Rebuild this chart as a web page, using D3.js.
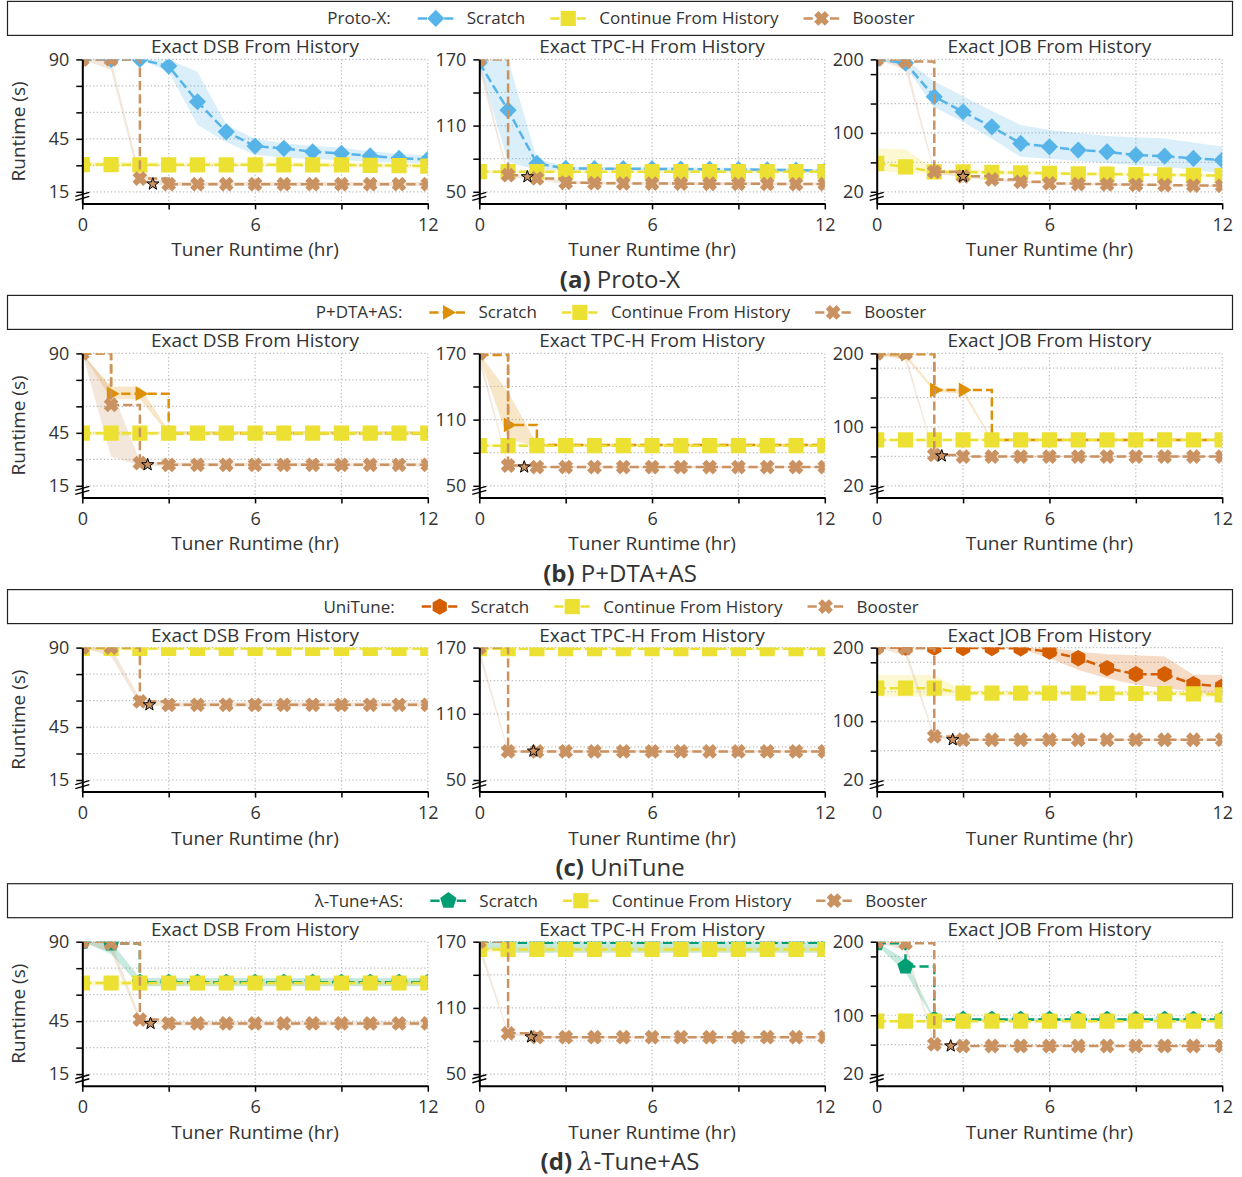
<!DOCTYPE html>
<html>
<head>
<meta charset="utf-8">
<script src="https://cdn.jsdelivr.net/npm/d3@7"></script>
<style>
  body { margin: 0; background: #fff; }
  svg text { font-family: "Open Sans", "Noto Sans", sans-serif; fill: #333; }
</style>
</head>
<body>
<svg id="chart" width="1242" height="1177"></svg>
<script>
// ---------- categories and tick values ----------
const hours = [0, 1, 2, 3, 4, 5, 6, 7, 8, 9, 10, 11, 12];
const tunerNames = ["Proto-X", "P+DTA+AS", "UniTune", "λ-Tune+AS"];
const captionLetters = ["(a)", "(b)", "(c)", "(d)"];
const workloadTitles = ["Exact DSB From History", "Exact TPC-H From History", "Exact JOB From History"];
const seriesLabels = ["Scratch", "Continue From History", "Booster"];
const yMaxByWorkload = [90, 170, 200];
const yTickValues = [[15, 30, 45, 60, 75, 90], [50, 80, 110, 140, 170], [20, 60, 100, 140, 180, 200]];
const yTickLabelValues = [[15, 45, 90], [50, 110, 170], [20, 100, 200]];
const xTickValues = [0, 3, 6, 9, 12];
const xTickLabelValues = [0, 6, 12];

// ---------- Proto-X ----------
const pxDsbScratch = { mean: [90, 90, 90, 86.2, 66, 49, 40.9, 39.6, 37.7, 36.8, 35.3, 34, 33.4],
  lo: [90, 90, 90, 83, 53, 43, 36, 34.5, 33.5, 33, 32, 31.5, 31],
  hi: [90, 90, 90, 90, 83, 53, 45, 42.5, 41, 40, 38, 36.5, 35.5] };
const pxDsbContinue = { mean: [30.4, 30.4, 30.3, 30.3, 30.3, 30.3, 30.3, 30.3, 30.2, 30.2, 30, 29.8, 29.6],
  lo: [29, 29, 29, 29, 29, 29, 29, 29, 29, 28.8, 28.6, 28.4, 28.2],
  hi: [32, 32, 31.8, 31.8, 31.8, 31.8, 31.8, 31.8, 31.6, 31.6, 31.4, 31.2, 31] };
const pxDsbBooster = { mean: [90, 90, 22.5, 19.3, 19.3, 19.3, 19.3, 19.3, 19.3, 19.3, 19.3, 19.3, 19.3],
  lo: [90, 84, 19.8, 18.3, 18.3, 18.3, 18.3, 18.3, 18.3, 18.3, 18.3, 18.3, 18.3],
  hi: [90, 90, 25, 20.5, 20.5, 20.5, 20.5, 20.5, 20.5, 20.5, 20.5, 20.5, 20.5] };

const pxTpchScratch = { mean: [167, 124, 75.7, 71.2, 71, 71, 70.8, 70.6, 70.4, 70.2, 70, 69.6, 69],
  lo: [164, 77, 70, 69.5, 69.5, 69.5, 69.3, 69, 68.8, 68.6, 68.4, 68, 67.5],
  hi: [170, 170, 80, 73, 72.5, 72.5, 72.3, 72.2, 72, 71.8, 71.6, 71.2, 70.5] };
const pxTpchContinue = { mean: [68.2, 68.2, 68.2, 68.2, 68.2, 68.2, 68.2, 68.2, 68.2, 68.2, 68.2, 68.2, 68.2],
  lo: [67, 67, 67, 67, 67, 67, 67, 67, 67, 67, 67, 67, 67],
  hi: [69.5, 69.5, 69.5, 69.5, 69.5, 69.5, 69.5, 69.5, 69.5, 69.5, 69.5, 69.5, 69.5] };
const pxTpchBooster = { mean: [170, 65.1, 62.1, 58.2, 57.8, 57.6, 57.5, 57.4, 57.3, 57.2, 57.1, 57, 57],
  lo: [160, 63, 60.8, 57, 56.6, 56.4, 56.3, 56.2, 56.1, 56, 55.9, 55.8, 55.8],
  hi: [170, 67, 63.6, 59.7, 59.3, 59.1, 59, 58.9, 58.8, 58.7, 58.6, 58.5, 58.5] };

const pxJobScratch = { mean: [200, 195, 149.2, 128.8, 108.4, 85.8, 81.2, 76.7, 74.4, 69.9, 68.5, 65.4, 63.1],
  lo: [200, 190, 135, 115, 92, 67.6, 65, 62, 59, 56, 54, 50, 45],
  hi: [200, 200, 170, 150, 130, 110.8, 104, 100, 96, 94, 92.6, 87, 81.2] };
const pxJobContinue = { mean: [58.6, 54, 47.2, 47, 46.5, 45.8, 45, 44.5, 44, 43.5, 43, 42.5, 42],
  lo: [47, 47, 44, 44, 43.5, 43, 42.5, 42, 41.5, 41, 40.5, 40, 39.5],
  hi: [79, 78, 51, 50, 49.5, 48.5, 47.5, 47, 46.5, 46, 45.5, 45, 44.5] };
const pxJobBooster = { mean: [200, 197, 47.2, 41, 36.8, 33.6, 31.4, 30.5, 30, 29.5, 29, 28.5, 28.2],
  lo: [200, 186, 45, 39.5, 35.3, 32.1, 29.9, 29, 28.5, 28, 27.5, 27, 26.7],
  hi: [200, 200, 49.5, 42.5, 38.3, 35.1, 32.9, 32, 31.5, 31, 30.5, 30, 29.7] };

// ---------- P+DTA+AS ----------
const pdDsbScratch = { mean: [90, 67.2, 67.2, 44.8, 44.8, 44.8, 44.8, 44.8, 44.8, 44.8, 44.8, 44.8, 44.8],
  lo: [90, 64, 64, 44, 44, 44, 44, 44, 44, 44, 44, 44, 44],
  hi: [90, 71.3, 71.3, 46, 46, 46, 46, 46, 46, 46, 46, 46, 46] };
const pdDsbContinue = { mean: [44.8, 44.8, 44.8, 44.8, 44.8, 44.8, 44.8, 44.8, 44.8, 44.8, 44.8, 44.8, 44.8],
  lo: [43.5, 43.5, 43.5, 43.5, 43.5, 43.5, 43.5, 43.5, 43.5, 43.5, 43.5, 43.5, 43.5],
  hi: [46, 46, 46, 46, 46, 46, 46, 46, 46, 46, 46, 46, 46] };
const pdDsbBooster = { mean: [90, 60.8, 27.8, 26.9, 26.9, 26.9, 26.9, 26.9, 26.9, 26.9, 26.9, 26.9, 26.9],
  lo: [90, 31.6, 26.5, 26, 26, 26, 26, 26, 26, 26, 26, 26, 26],
  hi: [90, 70.2, 29, 28, 28, 28, 28, 28, 28, 28, 28, 28, 28] };

const pdTpchScratch = { mean: [168.5, 105.2, 87, 87, 87, 87, 87, 87, 87, 87, 87, 87, 87],
  lo: [167, 92, 86, 86, 86, 86, 86, 86, 86, 86, 86, 86, 86],
  hi: [170, 135, 88, 88, 88, 88, 88, 88, 88, 88, 88, 88, 88] };
const pdTpchContinue = { mean: [86.4, 86.4, 86.4, 86.4, 86.4, 86.4, 86.4, 86.4, 86.4, 86.4, 86.4, 86.4, 86.4],
  lo: [85, 85, 85, 85, 85, 85, 85, 85, 85, 85, 85, 85, 85],
  hi: [88, 88, 88, 88, 88, 88, 88, 88, 88, 88, 88, 88, 88] };
const pdTpchBooster = { mean: [170, 68.4, 67, 67, 67, 67, 67, 67, 67, 67, 67, 67, 67],
  lo: [162, 67, 66, 66, 66, 66, 66, 66, 66, 66, 66, 66, 66],
  hi: [170, 70, 68, 68, 68, 68, 68, 68, 68, 68, 68, 68, 68] };

const pdJobScratch = { mean: [199, 199, 150.2, 150.2, 82.4, 82.4, 82.4, 82.4, 82.4, 82.4, 82.4, 82.4, 82.4],
  lo: [196, 194, 148, 145, 81, 81, 81, 81, 81, 81, 81, 81, 81],
  hi: [200, 200, 152, 152, 84, 84, 84, 84, 84, 84, 84, 84, 84] };
const pdJobContinue = { mean: [82.4, 82.4, 82.4, 82.4, 82.4, 82.4, 82.4, 82.4, 82.4, 82.4, 82.4, 82.4, 82.4],
  lo: [80.5, 80.5, 80.5, 80.5, 80.5, 80.5, 80.5, 80.5, 80.5, 80.5, 80.5, 80.5, 80.5],
  hi: [84.5, 84.5, 84.5, 84.5, 84.5, 84.5, 84.5, 84.5, 84.5, 84.5, 84.5, 84.5, 84.5] };
const pdJobBooster = { mean: [200, 200, 62, 59.7, 59.7, 59.7, 59.7, 59.7, 59.7, 59.7, 59.7, 59.7, 59.7],
  lo: [200, 190, 60.5, 58.5, 58.5, 58.5, 58.5, 58.5, 58.5, 58.5, 58.5, 58.5, 58.5],
  hi: [200, 200, 64, 61, 61, 61, 61, 61, 61, 61, 61, 61, 61] };

// ---------- UniTune ----------
const utDsbScratch = { mean: [100, 100, 100, 100, 100, 100, 100, 100, 100, 100, 100, 100, 100],
  lo: [98, 98, 98, 98, 98, 98, 98, 98, 98, 98, 98, 98, 98],
  hi: [102, 102, 102, 102, 102, 102, 102, 102, 102, 102, 102, 102, 102] };
const utDsbContinue = { mean: [89.5, 89.5, 89.5, 89.5, 89.5, 89.5, 89.5, 89.5, 89.5, 89.5, 89.5, 89.5, 89.5],
  lo: [88.5, 88.5, 88.5, 88.5, 88.5, 88.5, 88.5, 88.5, 88.5, 88.5, 88.5, 88.5, 88.5],
  hi: [90, 90, 90, 90, 90, 90, 90, 90, 90, 90, 90, 90, 90] };
const utDsbBooster = { mean: [90, 90, 59.5, 57.6, 57.6, 57.6, 57.6, 57.6, 57.6, 57.6, 57.6, 57.6, 57.6],
  lo: [90, 85, 57.5, 56.5, 56.5, 56.5, 56.5, 56.5, 56.5, 56.5, 56.5, 56.5, 56.5],
  hi: [90, 90, 61.5, 59, 59, 59, 59, 59, 59, 59, 59, 59, 59] };

const utTpchScratch = { mean: [185, 185, 185, 185, 185, 185, 185, 185, 185, 185, 185, 185, 185],
  lo: [182, 182, 182, 182, 182, 182, 182, 182, 182, 182, 182, 182, 182],
  hi: [188, 188, 188, 188, 188, 188, 188, 188, 188, 188, 188, 188, 188] };
const utTpchContinue = { mean: [169, 169, 169, 169, 169, 169, 169, 169, 169, 169, 169, 169, 169],
  lo: [167.5, 167.5, 167.5, 167.5, 167.5, 167.5, 167.5, 167.5, 167.5, 167.5, 167.5, 167.5, 167.5],
  hi: [170, 170, 170, 170, 170, 170, 170, 170, 170, 170, 170, 170, 170] };
const utTpchBooster = { mean: [170, 75.9, 75.9, 75.9, 75.9, 75.9, 75.9, 75.9, 75.9, 75.9, 75.9, 75.9, 75.9],
  lo: [162, 74.9, 74.9, 74.9, 74.9, 74.9, 74.9, 74.9, 74.9, 74.9, 74.9, 74.9, 74.9],
  hi: [170, 76.9, 76.9, 76.9, 76.9, 76.9, 76.9, 76.9, 76.9, 76.9, 76.9, 76.9, 76.9] };

const utJobScratch = { mean: [200, 200, 200, 199.5, 199.5, 199, 194.6, 185.6, 172.1, 163.9, 163.9, 150.3, 147.1],
  lo: [200, 200, 200, 199, 199, 198, 185.6, 169.7, 158.4, 149.4, 144.9, 140.3, 133.5],
  hi: [200, 200, 200, 200, 200, 200, 200, 194.6, 191, 189.6, 187.8, 163, 163] };
const utJobContinue = { mean: [144.9, 144.9, 144.9, 138.1, 138.1, 138.1, 138.1, 138, 137.8, 137.6, 137.4, 137, 135.8],
  lo: [133.5, 133.5, 133.5, 134.5, 134.5, 134.5, 134.5, 134.3, 134.2, 134, 133.8, 133.5, 132.5],
  hi: [162.9, 162.9, 162.9, 142, 142, 142, 142, 141.8, 141.6, 141.4, 141.2, 140.8, 139.5] };
const utJobBooster = { mean: [200, 199, 79.2, 74.7, 74.7, 74.7, 74.7, 74.7, 74.7, 74.7, 74.7, 74.7, 74.7],
  lo: [200, 189, 77.2, 73.2, 73.2, 73.2, 73.2, 73.2, 73.2, 73.2, 73.2, 73.2, 73.2],
  hi: [200, 200, 81.5, 76.2, 76.2, 76.2, 76.2, 76.2, 76.2, 76.2, 76.2, 76.2, 76.2] };

// ---------- λ-Tune+AS ----------
const ltDsbScratch = { mean: [90, 89, 67, 67, 67, 67, 67, 67, 67, 67, 67, 67, 67],
  lo: [90, 83, 64.7, 64.7, 64.7, 64.7, 64.7, 64.7, 64.7, 64.7, 64.7, 64.7, 64.7],
  hi: [90, 90, 69.4, 69.4, 69.4, 69.4, 69.4, 69.4, 69.4, 69.4, 69.4, 69.4, 69.4] };
const ltDsbContinue = { mean: [66.6, 66.6, 66.6, 66.6, 66.6, 66.6, 66.6, 66.6, 66.6, 66.6, 66.6, 66.6, 66.6],
  lo: [65, 65, 65, 65, 65, 65, 65, 65, 65, 65, 65, 65, 65],
  hi: [68, 68, 68, 68, 68, 68, 68, 68, 68, 68, 68, 68, 68] };
const ltDsbBooster = { mean: [90, 89, 45.9, 43.7, 43.7, 43.7, 43.7, 43.7, 43.7, 43.7, 43.7, 43.7, 43.7],
  lo: [90, 84, 44.2, 42.5, 42.5, 42.5, 42.5, 42.5, 42.5, 42.5, 42.5, 42.5, 42.5],
  hi: [90, 90, 47.6, 44.9, 44.9, 44.9, 44.9, 44.9, 44.9, 44.9, 44.9, 44.9, 44.9] };

const ltTpchScratch = { mean: [170, 169, 169, 169, 169, 169, 169, 169, 169, 169, 169, 169, 169],
  lo: [165, 160, 160, 160, 160, 160, 160, 160, 160, 160, 160, 160, 160],
  hi: [170, 170, 170, 170, 170, 170, 170, 170, 170, 170, 170, 170, 170] };
const ltTpchContinue = { mean: [163, 163, 163, 163, 163, 163, 163, 163, 163, 163, 163, 163, 163],
  lo: [160.5, 160.5, 160.5, 160.5, 160.5, 160.5, 160.5, 160.5, 160.5, 160.5, 160.5, 160.5, 160.5],
  hi: [165.5, 165.5, 165.5, 165.5, 165.5, 165.5, 165.5, 165.5, 165.5, 165.5, 165.5, 165.5, 165.5] };
const ltTpchBooster = { mean: [170, 87, 83.5, 83.5, 83.5, 83.5, 83.5, 83.5, 83.5, 83.5, 83.5, 83.5, 83.5],
  lo: [162, 86, 82.5, 82.5, 82.5, 82.5, 82.5, 82.5, 82.5, 82.5, 82.5, 82.5, 82.5],
  hi: [170, 88, 84.5, 84.5, 84.5, 84.5, 84.5, 84.5, 84.5, 84.5, 84.5, 84.5, 84.5] };

const ltJobScratch = { mean: [197.8, 166.2, 94.3, 94.3, 94.3, 94.3, 94.3, 94.3, 94.3, 94.3, 94.3, 94.3, 94.3],
  lo: [196, 158, 92.5, 92.5, 92.5, 92.5, 92.5, 92.5, 92.5, 92.5, 92.5, 92.5, 92.5],
  hi: [200, 175, 96, 96, 96, 96, 96, 96, 96, 96, 96, 96, 96] };
const ltJobContinue = { mean: [92, 92, 92, 92, 92, 92, 92, 92, 92, 92, 92, 92, 92],
  lo: [90, 90, 90, 90, 90, 90, 90, 90, 90, 90, 90, 90, 90],
  hi: [94, 94, 94, 94, 94, 94, 94, 94, 94, 94, 94, 94, 94] };
const ltJobBooster = { mean: [200, 198, 60.5, 58.2, 58.2, 58.2, 58.2, 58.2, 58.2, 58.2, 58.2, 58.2, 58.2],
  lo: [200, 188, 58.5, 57, 57, 57, 57, 57, 57, 57, 57, 57, 57],
  hi: [200, 200, 62.5, 59.4, 59.4, 59.4, 59.4, 59.4, 59.4, 59.4, 59.4, 59.4, 59.4] };

// Booster switch-over points (hour, runtime) per tuner row and workload column
const starHours = [[2.45, 1.67, 3.0], [2.27, 1.56, 2.26], [2.33, 1.88, 2.64], [2.37, 1.8, 2.57]];
const starRuntimes = [[19.4, 63.6, 40.8], [26.9, 67, 60.6], [57.6, 76.2, 74.7], [43.7, 83.7, 58.2]];

// ---------- styling ----------
const scratchColors = ["#56B4E9", "#DE8F05", "#D55E00", "#029E73"];
const continueColor = "#ECE133";
const boosterColor = "#CA9161";
const scratchShapes = ["diamond", "triRight", "hexagon", "pentagon"];
const scratchStep = [false, true, false, true];

const panelSeries = [
  [[pxDsbScratch, pxDsbContinue, pxDsbBooster], [pxTpchScratch, pxTpchContinue, pxTpchBooster], [pxJobScratch, pxJobContinue, pxJobBooster]],
  [[pdDsbScratch, pdDsbContinue, pdDsbBooster], [pdTpchScratch, pdTpchContinue, pdTpchBooster], [pdJobScratch, pdJobContinue, pdJobBooster]],
  [[utDsbScratch, utDsbContinue, utDsbBooster], [utTpchScratch, utTpchContinue, utTpchBooster], [utJobScratch, utJobContinue, utJobBooster]],
  [[ltDsbScratch, ltDsbContinue, ltDsbBooster], [ltTpchScratch, ltTpchContinue, ltTpchBooster], [ltJobScratch, ltJobContinue, ltJobBooster]]
];

// ---------- geometry ----------
const W = 345.5, H = 144, SPAN = 132.4;
const colLeft = [82.3, 479.3, 876.7];
const rowTop = [59.4, 353.4, 647.6, 941.7];
const LW = 2.5, DASH = "9.2,4";

// ---------- marker shapes ----------
function polygonPath(n, r, rot) {
  const pts = d3.range(n).map(i => {
    const a = rot + i * 2 * Math.PI / n;
    return [r * Math.sin(a), -r * Math.cos(a)];
  });
  return "M" + pts.map(p => p[0].toFixed(2) + "," + p[1].toFixed(2)).join("L") + "Z";
}
const shapePath = {
  diamond: () => polygonPath(4, 8.6, 0),
  square: () => polygonPath(4, 7.6 * Math.SQRT2, Math.PI / 4),
  triRight: () => polygonPath(3, 8.6, Math.PI / 2),
  hexagon: () => polygonPath(6, 8.2, 0),
  pentagon: () => polygonPath(5, 8.6, 0),
  xFilled: () => {
    const e = 7.4 * Math.SQRT2, a = e * 0.72, t = e * 0.28;
    const plus = [[t, -a], [t, -t], [a, -t], [a, t], [t, t], [t, a], [-t, a], [-t, t], [-a, t], [-a, -t], [-t, -t], [-t, -a]];
    const rot = plus.map(([x, y]) => [(x - y) / Math.SQRT2, (x + y) / Math.SQRT2]);
    return "M" + rot.map(p => p[0].toFixed(2) + "," + p[1].toFixed(2)).join("L") + "Z";
  },
  star: () => {
    const pts = d3.range(10).map(i => {
      const r = i % 2 === 0 ? 6.4 : 2.6;
      const a = i * Math.PI / 5;
      return [r * Math.sin(a), -r * Math.cos(a)];
    });
    return "M" + pts.map(p => p[0].toFixed(2) + "," + p[1].toFixed(2)).join("L") + "Z";
  }
};

const svg = d3.select("#chart");

// ---------- one subplot ----------
function drawPanel(g, row, col) {
  const yMax = yMaxByWorkload[col];
  const yLow = yTickLabelValues[col][0];
  const yMin = yLow - (yMax - yLow) * (H - SPAN) / SPAN;
  const x = d3.scaleLinear().domain([0, 12]).range([0, W]);
  const y = d3.scaleLinear().domain([yMin, yMax]).range([H, 0]);

  const clipId = `clip-${row}-${col}`;
  g.append("clipPath").attr("id", clipId).append("rect").attr("width", W).attr("height", H);

  // dotted grid
  const grid = g.append("g").attr("stroke", "#b8b8b8").attr("stroke-width", 1.2).attr("stroke-dasharray", "1.2,2.4");
  grid.selectAll(".gy").data(yTickValues[col]).join("line")
    .attr("x1", 0).attr("x2", W).attr("y1", d => y(d)).attr("y2", d => y(d));
  grid.selectAll(".gx").data(xTickValues.filter(v => v > 0)).join("line")
    .attr("x1", d => x(d)).attr("x2", d => x(d)).attr("y1", 0).attr("y2", H);

  const plot = g.append("g").attr("clip-path", `url(#${clipId})`);
  const series = panelSeries[row][col];
  const colors = [scratchColors[row], continueColor, boosterColor];
  const shapes = [scratchShapes[row], "square", "xFilled"];
  const steps = [scratchStep[row], false, true];

  series.forEach((s, i) => {
    const band = d3.area().x((d, k) => x(hours[k])).y0((d, k) => y(s.lo[k])).y1((d, k) => y(s.hi[k]));
    plot.append("path").datum(s.mean).attr("d", band)
      .attr("fill", colors[i]).attr("fill-opacity", 0.22).attr("stroke", "none");
  });

  series.forEach((s, i) => {
    const line = d3.line().x((d, k) => x(hours[k])).y(d => y(d))
      .curve(steps[i] ? d3.curveStepAfter : d3.curveLinear);
    plot.append("path").datum(s.mean).attr("d", line)
      .attr("fill", "none").attr("stroke", colors[i]).attr("stroke-width", LW)
      .attr("stroke-dasharray", DASH);
    plot.append("g").selectAll("path").data(s.mean).join("path")
      .attr("transform", (d, k) => `translate(${x(hours[k])},${y(d)})`)
      .attr("d", shapePath[shapes[i]]())
      .attr("fill", colors[i]);
  });

  // star at the booster switch-over point
  plot.append("path")
    .attr("transform", `translate(${x(starHours[row][col])},${y(starRuntimes[row][col])})`)
    .attr("d", shapePath.star())
    .attr("fill", boosterColor).attr("stroke", "#000").attr("stroke-width", 1);

  // axes
  const yAxis = d3.axisLeft(y).tickValues(yTickValues[col]).tickSize(6).tickSizeOuter(0).tickPadding(7)
    .tickFormat(d => yTickLabelValues[col].includes(d) ? d : "");
  const ya = g.append("g").call(yAxis);
  const xAxis = d3.axisBottom(x).tickValues(xTickValues).tickSize(6).tickSizeOuter(0).tickPadding(9)
    .tickFormat(d => xTickLabelValues.includes(d) ? d : "");
  const xa = g.append("g").attr("transform", `translate(0,${H})`).call(xAxis);
  [ya, xa].forEach(a => {
    a.select(".domain").attr("stroke", "#000").attr("stroke-width", 2);
    a.selectAll(".tick line").attr("stroke", "#000").attr("stroke-width", 1.5);
    a.selectAll("text").attr("font-size", 18).attr("fill", "#333")
      .attr("font-family", '"Open Sans", sans-serif');
  });

  // axis break marks at the foot of the y axis
  g.append("g").selectAll("line").data([0, 1]).join("line")
    .attr("x1", -7).attr("x2", 7)
    .attr("y1", k => H - 3 - 4 * k).attr("y2", k => H - 7 - 4 * k)
    .attr("stroke", "#000").attr("stroke-width", 1.5);

  // subplot title and axis labels
  g.append("text").attr("x", W / 2).attr("y", -6).attr("text-anchor", "middle")
    .attr("font-size", 19).text(workloadTitles[col]);
  g.append("text").attr("x", W / 2).attr("y", H + 53).attr("text-anchor", "middle")
    .attr("font-size", 19).text("Tuner Runtime (hr)");
  if (col === 0) {
    g.append("text").attr("transform", `translate(${-57},${H / 2}) rotate(-90)`)
      .attr("text-anchor", "middle").attr("font-size", 19).text("Runtime (s)");
  }
}

// ---------- legend for one tuner row ----------
function drawLegend(row) {
  const top = rowTop[row] - 58;
  svg.append("rect").attr("x", 7.5).attr("y", top).attr("width", 1225).attr("height", 34)
    .attr("fill", "#fff").attr("stroke", "#222").attr("stroke-width", 1.2);
  const g = svg.append("g");
  let cx = 0;
  const title = g.append("text").attr("x", 0).attr("dy", "0.35em").attr("font-size", 17).text(tunerNames[row] + ":");
  cx += title.node().getComputedTextLength() + 27;
  const colors = [scratchColors[row], continueColor, boosterColor];
  const shapes = [scratchShapes[row], "square", "xFilled"];
  seriesLabels.forEach((lab, i) => {
    g.append("line").attr("x1", cx).attr("x2", cx + 36).attr("y1", 0).attr("y2", 0)
      .attr("stroke", colors[i]).attr("stroke-width", LW).attr("stroke-dasharray", DASH);
    g.append("path").attr("transform", `translate(${cx + 18},0)`).attr("d", shapePath[shapes[i]]())
      .attr("fill", colors[i]);
    cx += 36 + 13;
    const t = g.append("text").attr("x", cx).attr("dy", "0.35em").attr("font-size", 17).text(lab);
    cx += t.node().getComputedTextLength() + 25;
  });
  const total = cx - 25;
  g.attr("transform", `translate(${621 - total / 2},${top + 17})`);
}

// ---------- caption under each row ----------
function drawCaption(row) {
  const t = svg.append("text").attr("x", 620).attr("y", rowTop[row] + 228.5)
    .attr("text-anchor", "middle").attr("font-size", 24);
  t.append("tspan").attr("font-weight", "bold").text(captionLetters[row] + " ");
  const name = tunerNames[row];
  if (name.startsWith("λ")) {
    t.append("tspan").attr("font-style", "italic").attr("font-family", "DejaVu Serif, serif").text("λ");
    t.append("tspan").text(name.slice(1));
  } else {
    t.append("tspan").text(name);
  }
}

tunerNames.forEach((_, row) => {
  drawLegend(row);
  workloadTitles.forEach((__, col) => {
    const g = svg.append("g").attr("transform", `translate(${colLeft[col]},${rowTop[row]})`);
    drawPanel(g, row, col);
  });
  drawCaption(row);
});
</script>
</body>
</html>
